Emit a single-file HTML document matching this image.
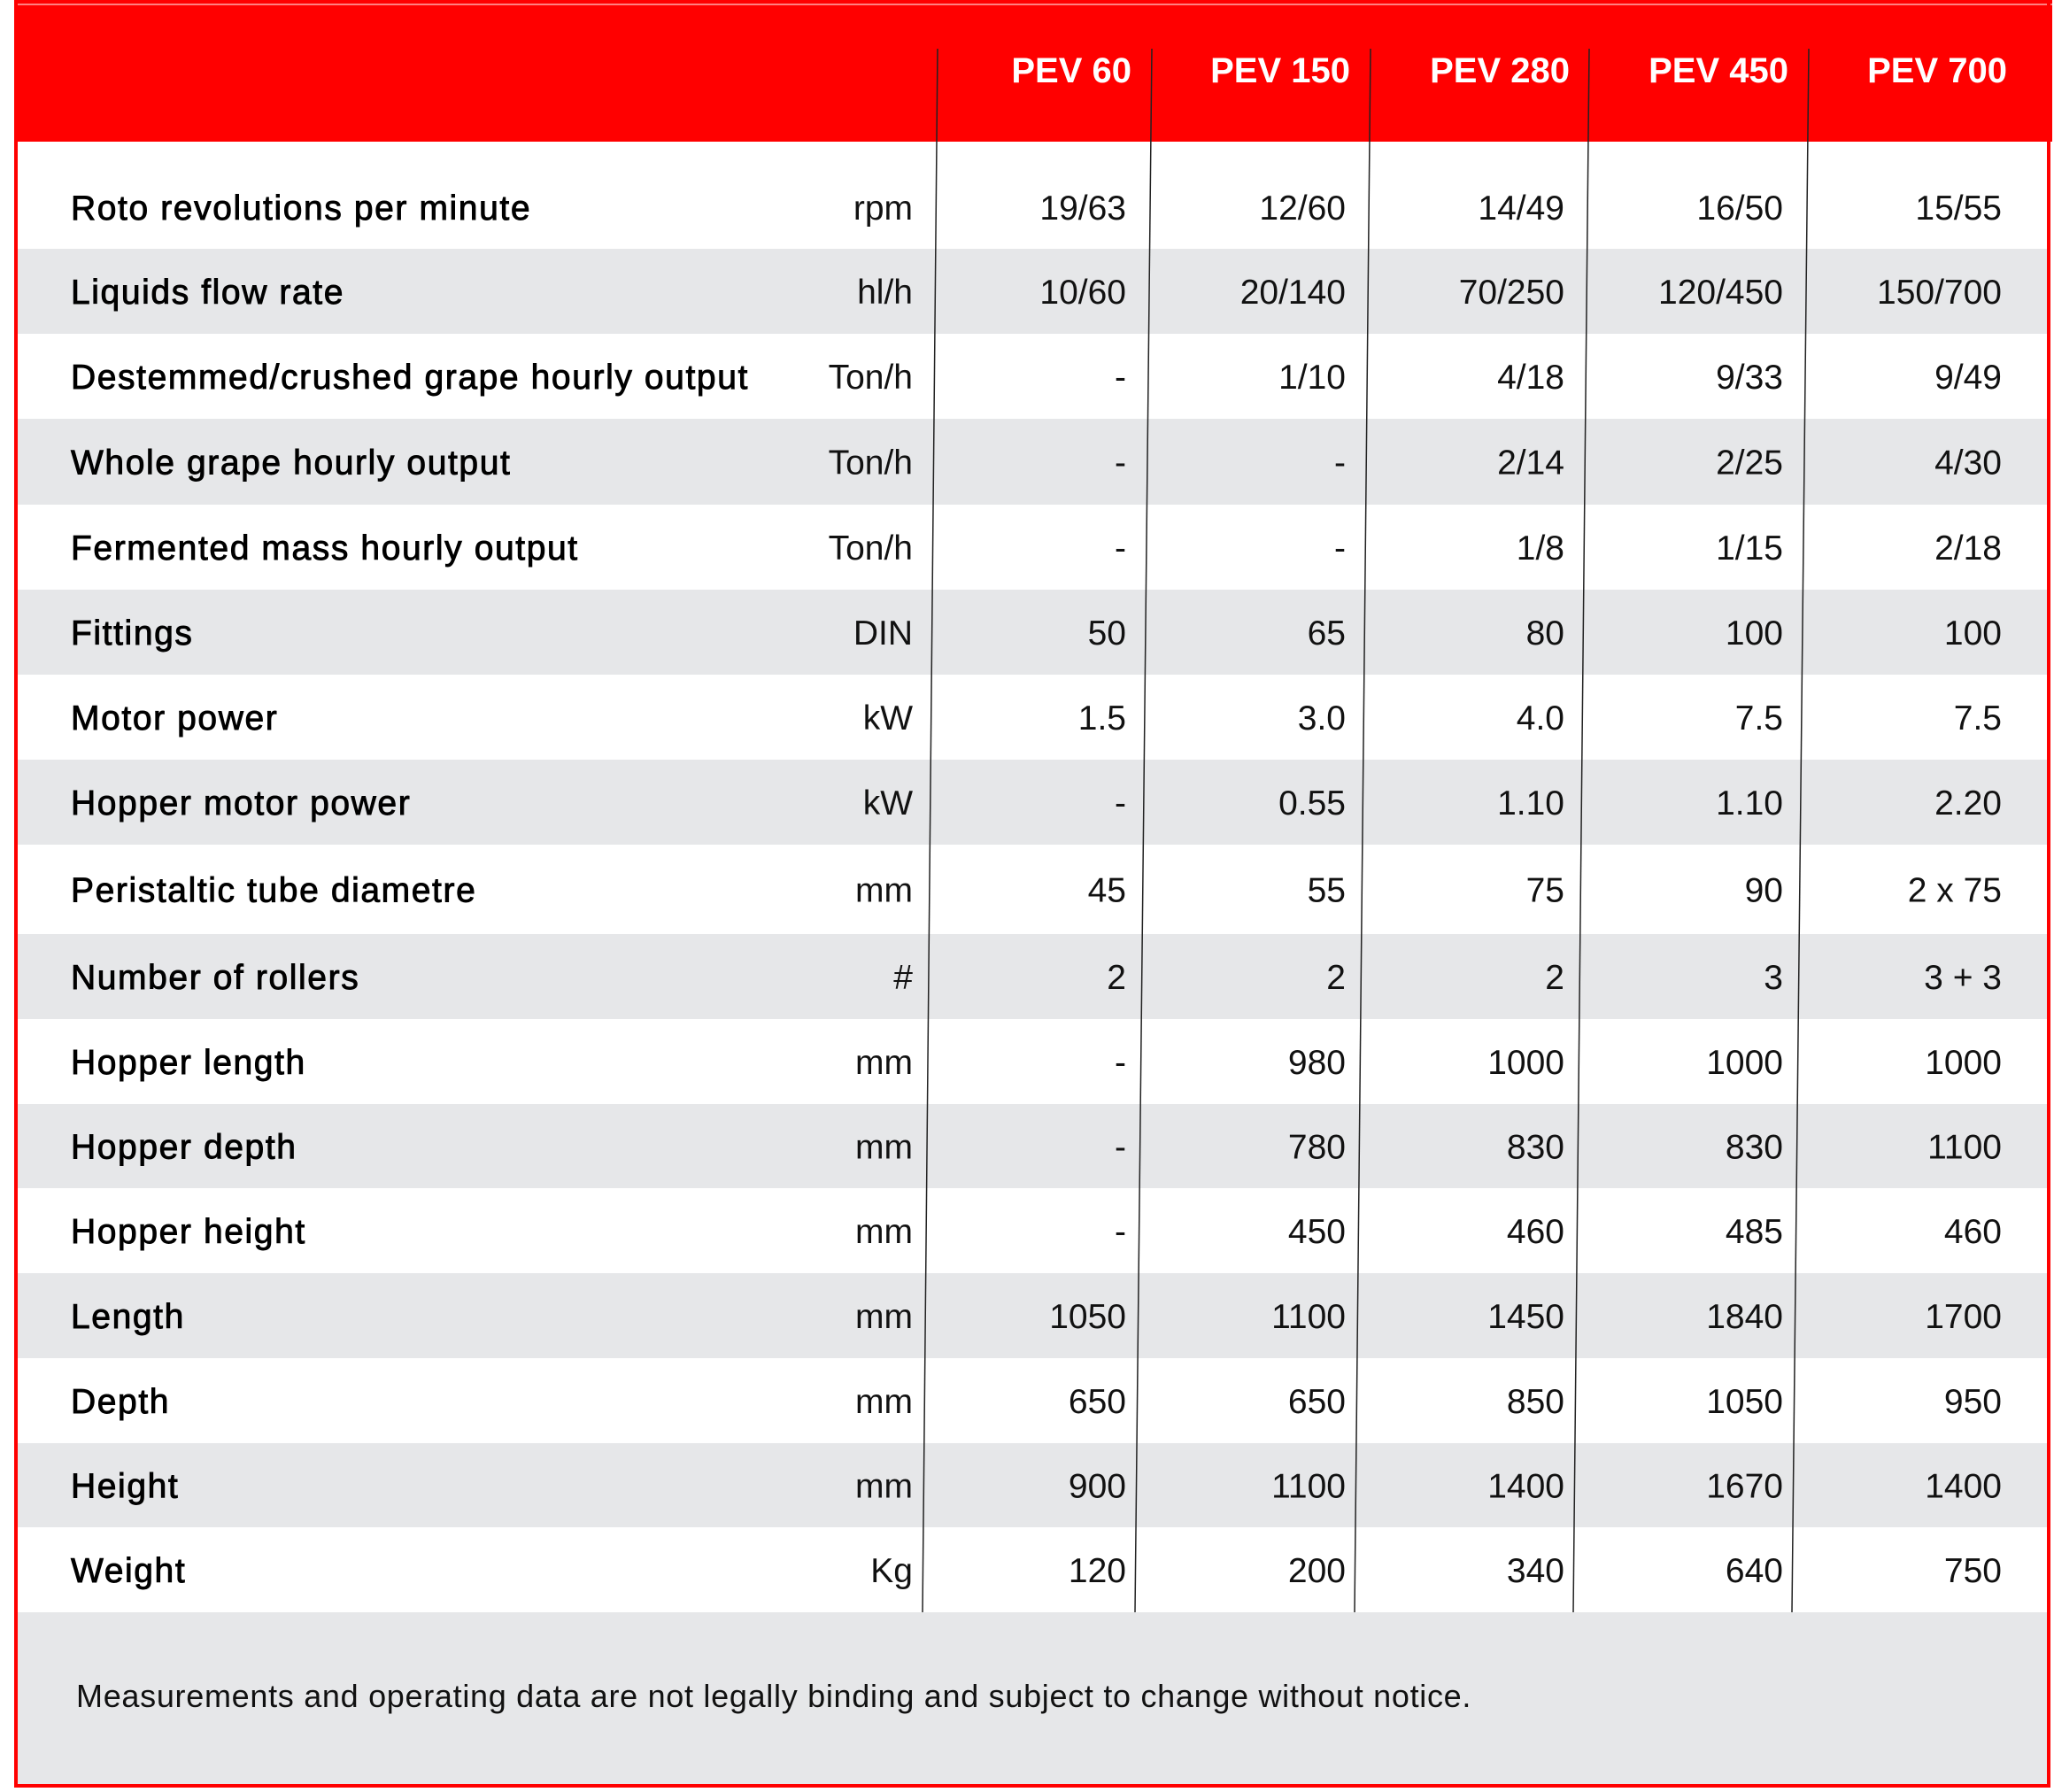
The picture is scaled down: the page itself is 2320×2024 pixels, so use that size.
<!DOCTYPE html>
<html><head><meta charset="utf-8"><style>
html,body{margin:0;padding:0;background:#fff;}
svg{display:block;font-family:"Liberation Sans",Arial,sans-serif;}
</style></head><body>
<svg id="t" width="2320" height="2024" viewBox="0 0 2320 2024">
<rect x="0" y="0" width="2320" height="2024" fill="#fff"/>
<rect x="18" y="0" width="2300" height="160" fill="#ff0000"/>
<line x1="18" y1="5" x2="2318" y2="5" stroke="#ff8080" stroke-width="2"/>
<g id="rows"></g>
<rect x="18" y="1821" width="2296" height="196" fill="#e6e7e9"/>
<text x="86" y="1928" font-size="36" letter-spacing="0.7" fill="#111">Measurements and operating data are not legally binding and subject to change without notice.</text>
<g id="lines"></g>
<rect x="18" y="2" width="2296" height="2015" fill="none" stroke="#ff0000" stroke-width="4"/>
</svg>
<script>
const models=["PEV 60","PEV 150","PEV 280","PEV 450","PEV 700"];
const labels=["Roto revolutions per minute","Liquids flow rate","Destemmed/crushed grape hourly output","Whole grape hourly output","Fermented mass hourly output","Fittings","Motor power","Hopper motor power","Peristaltic tube diametre","Number of rollers","Hopper length","Hopper depth","Hopper height","Length","Depth","Height","Weight"];
const units=["rpm","hl/h","Ton/h","Ton/h","Ton/h","DIN","kW","kW","mm","#","mm","mm","mm","mm","mm","mm","Kg"];
const col1=["19/63","10/60","-","-","-","50","1.5","-","45","2","-","-","-","1050","650","900","120"];
const col2=["12/60","20/140","1/10","-","-","65","3.0","0.55","55","2","980","780","450","1100","650","1100","200"];
const col3=["14/49","70/250","4/18","2/14","1/8","80","4.0","1.10","75","2","1000","830","460","1450","850","1400","340"];
const col4=["16/50","120/450","9/33","2/25","1/15","100","7.5","1.10","90","3","1000","830","485","1840","1050","1670","640"];
const col5=["15/55","150/700","9/49","4/30","2/18","100","7.5","2.20","2 x 75","3 + 3","1000","1100","460","1700","950","1400","750"];
const bounds=[160,281,377,473,570,666,762,858,954,1055,1151,1247,1342,1438,1534,1630,1725,1821];
const NS="http://www.w3.org/2000/svg";
const cols=[col1,col2,col3,col4,col5];
const valRight=[1272,1520,1767,2014,2261];
const hdrRight=[1278,1525,1773,2020,2267];
const lineTop=[1059,1301,1548,1795,2043];
const lineBot=[1042,1282,1530,1777,2024];
const rowsG=document.getElementById('rows');
const linesG=document.getElementById('lines');
function txt(x,y,s,size,anchor,fill,extra){const t=document.createElementNS(NS,'text');t.setAttribute('x',x);t.setAttribute('y',y);t.setAttribute('font-size',size);t.setAttribute('text-anchor',anchor);t.setAttribute('fill',fill);if(extra)for(const k in extra)t.setAttribute(k,extra[k]);t.textContent=s;return t;}
models.forEach((m,i)=>{
  const t=txt(hdrRight[i],93,m,40,'end','#fff',{'font-weight':'bold'});
  
  
  rowsG.appendChild(t);
});
labels.forEach((lab,r)=>{
  const y0=bounds[r],y1=bounds[r+1];
  if(r%2===1){const rc=document.createElementNS(NS,'rect');rc.setAttribute('x',18);rc.setAttribute('y',y0);rc.setAttribute('width',2296);rc.setAttribute('height',y1-y0);rc.setAttribute('fill','#e6e7e9');
  
  
  rowsG.appendChild(rc);}
  const cy=(r===0?234:(y0+y1)/2)+14;
  const l=txt(80,cy,lab,39,'start','#000',{stroke:'#000','stroke-width':'0.9','letter-spacing':'1.6'});
  
  
  rowsG.appendChild(l);
  const u=txt(1031,cy,units[r],39,'end','#111');
  
  
  rowsG.appendChild(u);
  cols.forEach((c,i)=>{
    const v=txt(valRight[i],cy,c[r],39,'end','#111');
    
    
    rowsG.appendChild(v);
  });
});
lineTop.forEach((x,i)=>{
  const ln=document.createElementNS(NS,'line');
  ln.setAttribute('x1',x);ln.setAttribute('y1',55);ln.setAttribute('x2',lineBot[i]);ln.setAttribute('y2',1821);
  ln.setAttribute('stroke','#222');ln.setAttribute('stroke-width','1.5');
  
  
  linesG.appendChild(ln);
});
</script>
</body></html>
